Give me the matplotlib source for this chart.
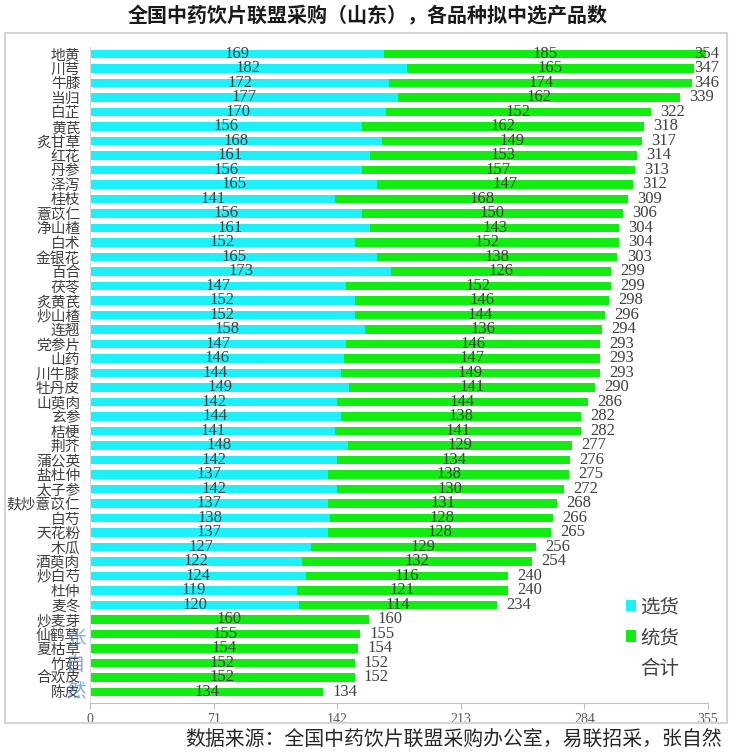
import numpy as np
import matplotlib
matplotlib.use('Agg')
import matplotlib.pyplot as plt
from matplotlib.patches import Patch, Rectangle

# 品种（自上而下）
herbs = ['地黄', '川芎', '牛膝', '当归', '白芷', '黄芪', '炙甘草', '红花', '丹参', '泽泻',
         '桂枝', '薏苡仁', '净山楂', '白术', '金银花', '百合', '茯苓', '炙黄芪', '炒山楂', '连翘',
         '党参片', '山药', '川牛膝', '牡丹皮', '山萸肉', '玄参', '桔梗', '荆芥', '蒲公英', '盐杜仲',
         '太子参', '麸炒薏苡仁', '白芍', '天花粉', '木瓜', '酒萸肉', '炒白芍', '杜仲', '麦冬', '炒麦芽',
         '仙鹤草', '夏枯草', '竹茹', '合欢皮', '陈皮']
xuanhuo = [169, 182, 172, 177, 170, 156, 168, 161, 156, 165,
           141, 156, 161, 152, 165, 173, 147, 152, 152, 158,
           147, 146, 144, 149, 142, 144, 141, 148, 142, 137,
           142, 137, 138, 137, 127, 122, 124, 119, 120, 0,
           0, 0, 0, 0, 0]
tonghuo = [185, 165, 174, 162, 152, 162, 149, 153, 157, 147,
           168, 150, 143, 152, 138, 126, 152, 146, 144, 136,
           146, 147, 149, 141, 144, 138, 141, 129, 134, 138,
           130, 131, 128, 128, 129, 132, 116, 121, 114, 160,
           155, 154, 152, 152, 134]
heji = [354, 347, 346, 339, 322, 318, 317, 314, 313, 312,
        309, 306, 304, 304, 303, 299, 299, 298, 296, 294,
        293, 293, 293, 290, 286, 282, 282, 277, 276, 275,
        272, 268, 266, 265, 256, 254, 240, 240, 234, 160,
        155, 154, 152, 152, 134]
xticks = [0, 71, 142, 213, 284, 355]

CYAN = '#1CF0F9'
GREEN = '#12EC12'
TXT = '#404040'
num_font = ['Liberation Serif', 'Noto Sans CJK SC']
cjk_font = ['Noto Sans CJK SC', 'DejaVu Sans']

fig = plt.figure(figsize=(7.36, 7.54), dpi=100)
W, H = 736, 754

# 外框
fig.patches.append(Rectangle((5 / W, 1 - 723 / H), 722 / W, 690 / H, transform=fig.transFigure,
                             fill=False, edgecolor='#d4d4d4', lw=1.5))

ax = fig.add_axes([90 / W, 1 - 703 / H, 618 / W, 656.3 / H])
n = len(herbs)
y = np.arange(n)[::-1]

ax.barh(y, xuanhuo, height=0.6, color=CYAN)
ax.barh(y, tonghuo, left=xuanhuo, height=0.6, color=GREEN)

for yi, a, b, t in zip(y, xuanhuo, tonghuo, heji):
    if a > 0:
        ax.text(a / 2, yi, str(a), ha='center', va='center', fontsize=12, color=TXT, family=num_font)
    ax.text(a + b / 2, yi, str(b), ha='center', va='center', fontsize=12, color=TXT, family=num_font)
    ax.text(min(t + 12.5, 354.5), yi, str(t), ha='center', va='center', fontsize=12,
            color=TXT, family=num_font)

ax.set_xlim(0, 355)
ax.set_ylim(-0.76, 44.5)
ax.set_xticks(xticks)
ax.set_xticklabels([str(v) for v in xticks], fontsize=10, color='#595959', family=num_font)
ax.set_yticks(y)
ax.set_yticklabels(herbs, fontsize=10.6, color=TXT, family=cjk_font)
ax.tick_params(axis='y', length=0, pad=7)
ax.tick_params(axis='x', length=4, color='#bfbfbf', pad=3)
for s in ['top', 'right']:
    ax.spines[s].set_visible(False)
ax.spines['left'].set_color('#d9d9d9')
ax.spines['bottom'].set_color('#bfbfbf')

handles = [Patch(facecolor=CYAN, edgecolor='none'),
           Patch(facecolor=GREEN, edgecolor='none'),
           Patch(facecolor='none', edgecolor='none')]
leg = ax.legend(handles, ['选货', '统货', '合计'], loc='upper left',
                bbox_to_anchor=(608 / W, 1 - 579 / H), bbox_transform=fig.transFigure,
                frameon=False, prop={'family': cjk_font, 'size': 14},
                handlelength=0.55, handleheight=0.55, handletextpad=0.2, labelspacing=0.5)
for t in leg.get_texts():
    t.set_color(TXT)

fig.text(368 / W, 1 - 16 / H, '全国中药饮片联盟采购（山东），各品种拟中选产品数',
         ha='center', va='center', fontsize=14.4, fontweight='bold', color='#1a1a1a', family=cjk_font)
fig.text(722 / W, 1 - 740 / H, '数据来源：全国中药饮片联盟采购办公室，易联招采，张自然',
         ha='right', va='center', fontsize=14.3, color='#262626', family=cjk_font)

# 水印
fig.text(76 / W, 1 - 665 / H, '张\n自\n然', ha='center', va='center', fontsize=14,
         color='#4f86c6', alpha=0.7, linespacing=1.28, family=cjk_font)

fig.savefig('out.png', dpi=100)
